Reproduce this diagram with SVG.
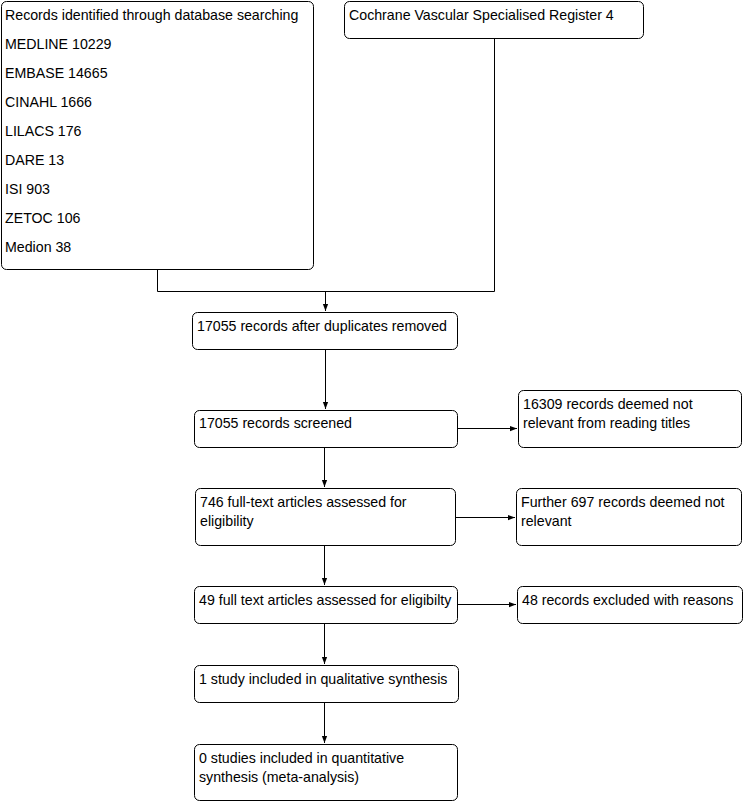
<svg xmlns="http://www.w3.org/2000/svg" width="744" height="802" viewBox="0 0 744 802">
<defs>
<style>
.b{fill:#fff;stroke:#000;stroke-width:1}
.t{font-family:"Liberation Sans",Arial,sans-serif;font-size:14.2px;fill:#000}
.c{fill:none;stroke:#000;stroke-width:1}
</style>
<marker id="a" viewBox="0 0 8 8" refX="8" refY="4" markerWidth="7" markerHeight="7" orient="auto" markerUnits="userSpaceOnUse">
<path d="M0,1 L8,4 L0,7 Z" fill="#000"/>
</marker>
</defs>
<rect width="744" height="802" fill="#fff"/>
<g id="connectors">
<path class="c" d="M157.5,269 V291.5 H494.5 V38"/>
<path class="c" d="M325.5,291.5 V311" marker-end="url(#a)"/>
<path class="c" d="M325.5,349 V409" marker-end="url(#a)"/>
<path class="c" d="M457,428.5 H517" marker-end="url(#a)"/>
<path class="c" d="M324.5,447 V487" marker-end="url(#a)"/>
<path class="c" d="M455,517.5 H515" marker-end="url(#a)"/>
<path class="c" d="M324.5,545 V585" marker-end="url(#a)"/>
<path class="c" d="M457,604.5 H516" marker-end="url(#a)"/>
<path class="c" d="M324.5,623 V664" marker-end="url(#a)"/>
<path class="c" d="M324.5,702 V743" marker-end="url(#a)"/>
</g>
<g id="n1">
<rect class="b" x="1.5" y="1.5" width="312" height="268" rx="5"/>
<text class="t" x="5" y="20">Records identified through database searching</text>
<text class="t" x="5" y="49">MEDLINE 10229</text>
<text class="t" x="5" y="78">EMBASE 14665</text>
<text class="t" x="5" y="107">CINAHL 1666</text>
<text class="t" x="5" y="136">LILACS 176</text>
<text class="t" x="5" y="165">DARE 13</text>
<text class="t" x="5" y="194">ISI 903</text>
<text class="t" x="5" y="223">ZETOC 106</text>
<text class="t" x="5" y="252">Medion 38</text>
</g>
<g id="n2">
<rect class="b" x="344.5" y="1.5" width="299" height="37" rx="5"/>
<text class="t" x="349" y="20">Cochrane Vascular Specialised Register 4</text>
</g>
<g id="n3">
<rect class="b" x="192.5" y="312.5" width="265" height="37" rx="5"/>
<text class="t" x="197" y="331">17055 records after duplicates removed</text>
</g>
<g id="n4">
<rect class="b" x="194.5" y="410.5" width="263" height="37" rx="5"/>
<text class="t" x="199" y="428">17055 records screened</text>
</g>
<g id="n5">
<rect class="b" x="518.5" y="390.5" width="223" height="57" rx="5"/>
<text class="t" x="523" y="409">16309 records deemed not</text>
<text class="t" x="523" y="428">relevant from reading titles</text>
</g>
<g id="n6">
<rect class="b" x="195.5" y="488.5" width="260" height="57" rx="5"/>
<text class="t" x="200" y="507">746 full-text articles assessed for</text>
<text class="t" x="200" y="526">eligibility</text>
</g>
<g id="n7">
<rect class="b" x="516.5" y="488.5" width="225" height="57" rx="5"/>
<text class="t" x="521" y="507">Further 697 records deemed not</text>
<text class="t" x="521" y="526">relevant</text>
</g>
<g id="n8">
<rect class="b" x="194.5" y="586.5" width="263" height="37" rx="5"/>
<text class="t" x="199" y="605">49 full text articles assessed for eligibilty</text>
</g>
<g id="n9">
<rect class="b" x="517.5" y="586.5" width="225" height="37" rx="5"/>
<text class="t" x="522" y="605">48 records excluded with reasons</text>
</g>
<g id="n10">
<rect class="b" x="194.5" y="665.5" width="264" height="37" rx="5"/>
<text class="t" x="199" y="684">1 study included in qualitative synthesis</text>
</g>
<g id="n11">
<rect class="b" x="194.5" y="744.5" width="263" height="56" rx="5"/>
<text class="t" x="199" y="763">0 studies included in quantitative</text>
<text class="t" x="199" y="782">synthesis (meta-analysis)</text>
</g>
</svg>
